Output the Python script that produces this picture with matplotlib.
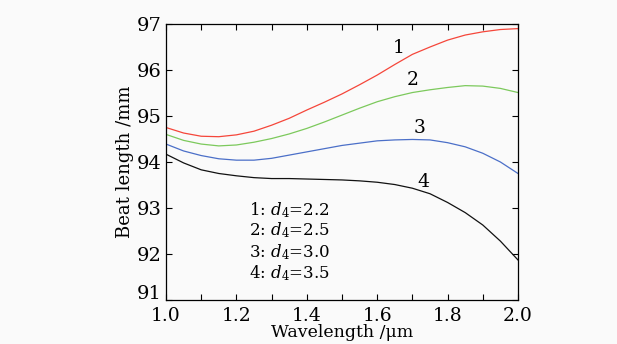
import matplotlib
matplotlib.use("Agg")
import matplotlib.pyplot as plt
from matplotlib.ticker import MultipleLocator, FormatStrFormatter, FuncFormatter

plt.rcParams['font.family'] = ['DejaVu Serif']
plt.rcParams['mathtext.fontset'] = 'dejavuserif'

wavelength = [1.0, 1.05, 1.1, 1.15, 1.2, 1.25, 1.3, 1.35, 1.4, 1.45, 1.5,
              1.55, 1.6, 1.65, 1.7, 1.75, 1.8, 1.85, 1.9, 1.95, 2.0]
beat_1 = [94.75, 94.63, 94.56, 94.55, 94.59, 94.67, 94.80, 94.95, 95.13, 95.30, 95.48,
          95.68, 95.89, 96.12, 96.34, 96.50, 96.65, 96.76, 96.83, 96.88, 96.90]
beat_2 = [94.60, 94.47, 94.39, 94.35, 94.37, 94.43, 94.51, 94.61, 94.73, 94.87, 95.02,
          95.17, 95.31, 95.42, 95.51, 95.57, 95.62, 95.66, 95.65, 95.60, 95.51]
beat_3 = [94.39, 94.24, 94.14, 94.07, 94.04, 94.04, 94.08, 94.15, 94.22, 94.29, 94.36,
          94.41, 94.46, 94.48, 94.49, 94.48, 94.42, 94.33, 94.19, 94.00, 93.75]
beat_4 = [94.17, 93.98, 93.83, 93.75, 93.70, 93.66, 93.64, 93.64, 93.63, 93.62, 93.61,
          93.59, 93.56, 93.51, 93.43, 93.31, 93.12, 92.90, 92.63, 92.28, 91.87]
series = [beat_1, beat_2, beat_3, beat_4]
colors = ['#f5463a', '#7cc95c', '#4b6fc8', '#111111']
curve_labels = ['1', '2', '3', '4']
label_pos = [(1.66, 96.47), (1.70, 95.78), (1.72, 94.73), (1.73, 93.57)]
legend_lines = [r'1: $d_4$=2.2', r'2: $d_4$=2.5', r'3: $d_4$=3.0', r'4: $d_4$=3.5']
legend_y = [92.96, 92.51, 92.05, 91.58]
y_min, y_max = 91, 97

bg = '#fafafa'
fig = plt.figure(figsize=(6.17, 3.44), dpi=100, facecolor=bg)
ax = fig.add_axes([166/617, 1 - 300/344, (518-166)/617, (300-24)/344], facecolor=bg)

for ys, c in zip(series, colors):
    ax.plot(wavelength, ys, color=c, lw=0.9)

for lab, (lx, ly) in zip(curve_labels, label_pos):
    ax.text(lx, ly, lab, fontsize=13.5, ha='center', va='center')

for t, ly in zip(legend_lines, legend_y):
    ax.text(1.235, ly, t, fontsize=12, ha='left', va='center')

ax.set_xlim(1.0, 2.0)
ax.set_ylim(y_min, y_max)
ax.xaxis.set_major_locator(MultipleLocator(0.2))
ax.xaxis.set_minor_locator(MultipleLocator(0.1))
ax.yaxis.set_major_locator(MultipleLocator(1))
ax.xaxis.set_major_formatter(FormatStrFormatter('%.1f'))
# lowest y label drawn separately (raised slightly so it clears "1.0")
ax.yaxis.set_major_formatter(FuncFormatter(lambda v, p: '' if abs(v - y_min) < 1e-6 else f'{v:.0f}'))
ax.annotate(f'{y_min}', xy=(0, y_min), xycoords=('axes fraction', 'data'),
            xytext=(-3, 4), textcoords='offset points', ha='right', va='center',
            fontsize=14, annotation_clip=False)
ax.tick_params(which='both', direction='in', top=True, right=True, labelsize=14)
ax.tick_params(axis='x', labelsize=13.5)
ax.tick_params(which='major', length=4, width=0.8)
ax.tick_params(which='minor', length=4, width=0.8)
ax.tick_params(axis='x', pad=5)
ax.tick_params(axis='y', pad=3)
for s in ax.spines.values():
    s.set_linewidth(0.9)

ax.set_xlabel('Wavelength /μm', fontsize=12.5, labelpad=-1)
ax.set_ylabel('Beat length /mm', fontsize=13, labelpad=2)

fig.savefig('out.png', dpi=100, facecolor=bg)
